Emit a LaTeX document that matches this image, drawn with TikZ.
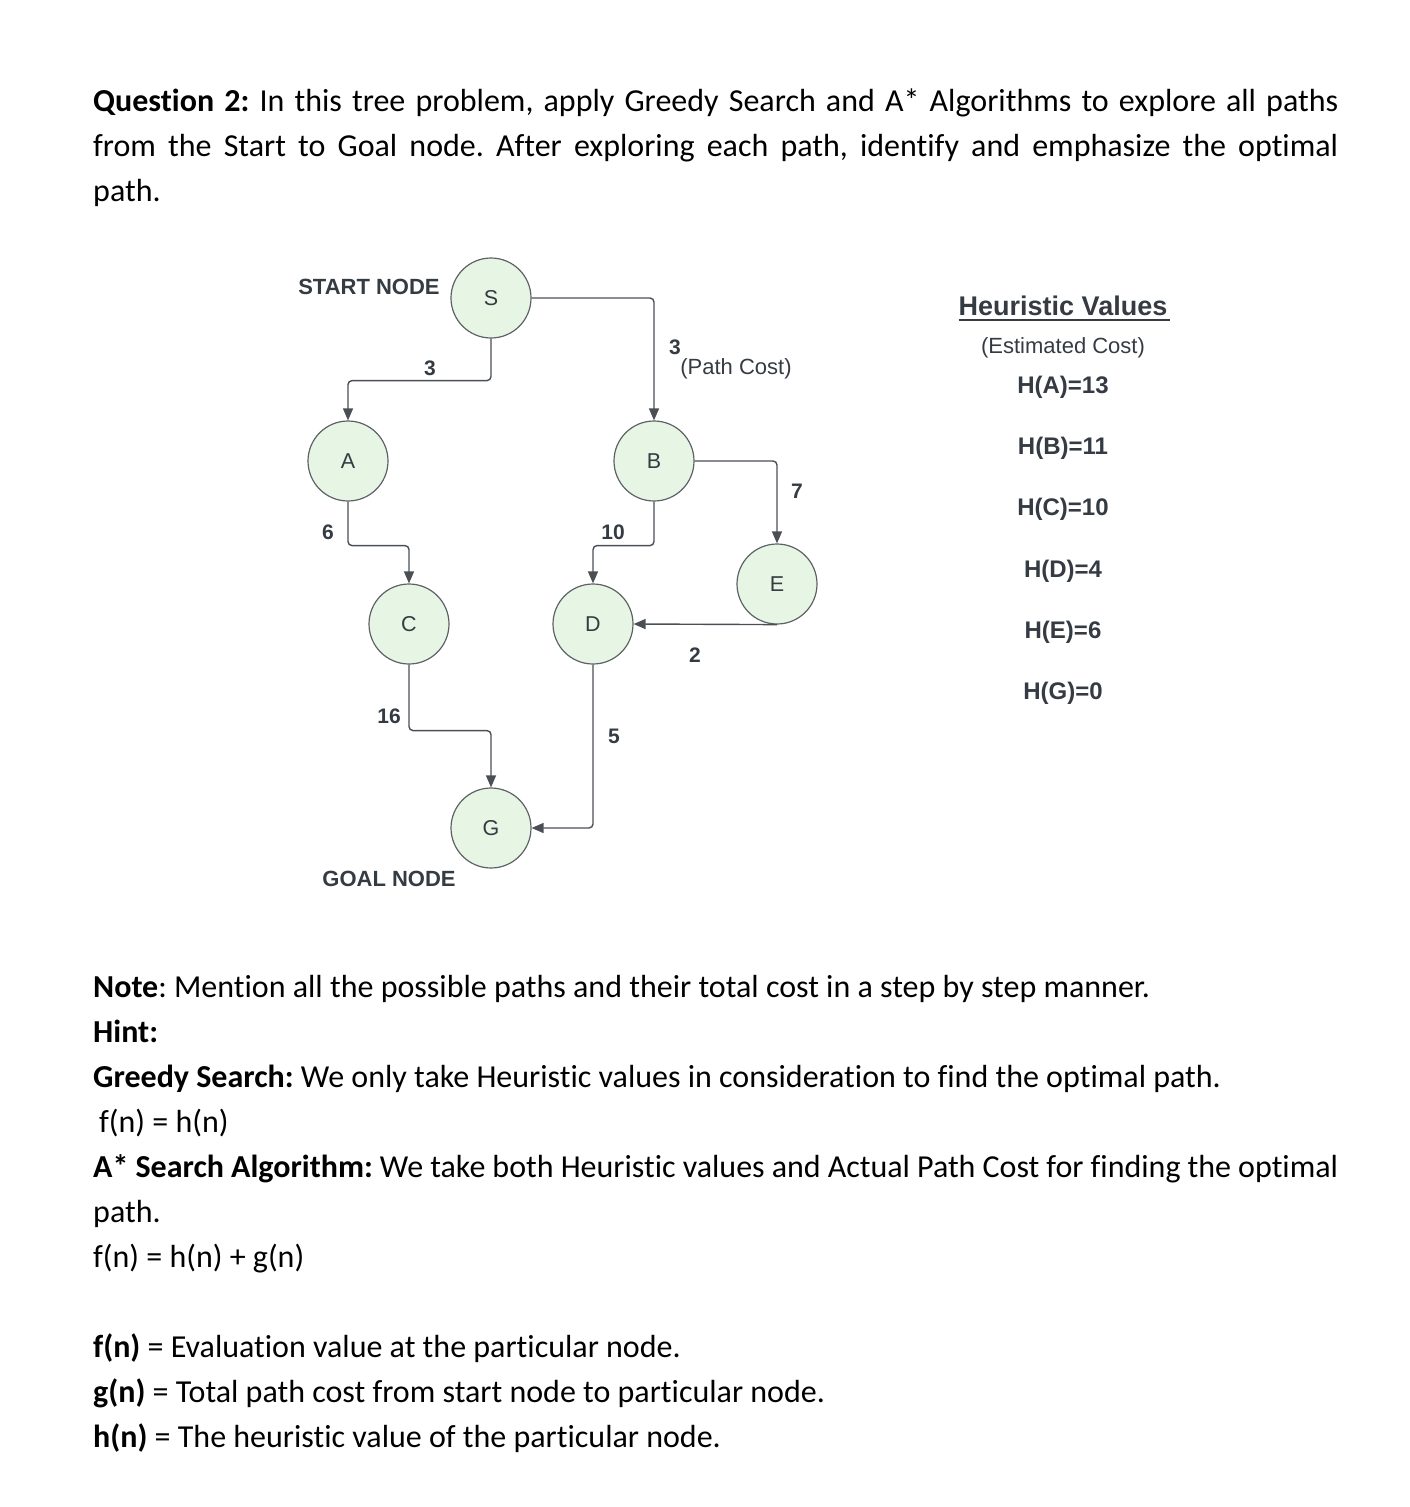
\documentclass[tikz,border=0pt]{standalone}
\usepackage{fontspec}
\setmainfont{Carlito}[Ligatures={NoCommon}]
\newfontfamily\arial{Liberation Sans}
\usetikzlibrary{arrows.meta}
\definecolor{nodefill}{HTML}{E6F5E4}
\definecolor{nodedraw}{HTML}{5E6166}
\definecolor{edgecol}{HTML}{4A4F56}
\definecolor{txt}{HTML}{353B43}
\frenchspacing
\begin{document}
\begin{tikzpicture}[x=1pt,y=-1pt,
  state/.style={circle, draw=nodedraw, fill=nodefill, line width=1.2pt, minimum size=80pt, inner sep=0pt, font=\arial\fontsize{21.5}{21.5}\selectfont, text=txt},
  edge/.style={draw=edgecol, line width=1.4pt, rounded corners=4pt, -{Triangle[length=12pt,width=10pt]}},
  elabel/.style={font=\arial\bfseries\fontsize{21}{21}\selectfont, text=txt, inner sep=0pt},
  plabel/.style={font=\arial\fontsize{22}{22}\selectfont, text=txt, inner sep=0pt},
  tlabel/.style={font=\arial\bfseries\fontsize{22}{22}\selectfont, text=txt, inner sep=0pt},
  hval/.style={font=\arial\bfseries\fontsize{24}{24}\selectfont, text=txt, inner sep=0pt},
  body/.style={anchor=base west, inner sep=0pt, font=\fontsize{32}{45}\selectfont},
]
\useasboundingbox (0,0) rectangle (1409,1507);

% question text
\node[body] (q1) at (93,111) {\makebox[1245pt][s]{\textbf{Question 2:} In this tree problem, apply Greedy Search and A* Algorithms to explore all paths}};
\node[body] (q2) at (93,156) {\makebox[1245pt][s]{from the Start to Goal node. After exploring each path, identify and emphasize the optimal}};
\node[body] (q3) at (93,201) {path.};

% graph nodes
\node[state] (S) at (491,298) {S};
\node[state] (A) at (348,461) {A};
\node[state] (B) at (654,461) {B};
\node[state] (C) at (409,624) {C};
\node[state] (D) at (593,624) {D};
\node[state] (E) at (777,584) {E};
\node[state] (G) at (491,828) {G};

% edges
\draw[edge] (S.south) -- ++(0,42) -| (A.north);
\draw[edge] (S.east) -| (B.north);
\draw[edge] (A.south) -- ++(0,44) -| (C.north);
\draw[edge] (B.south) -- ++(0,44) -| (D.north);
\draw[edge] (B.east) -| (E.north);
\draw[edge] (E.south) -- (D.east);
\draw[edge] (C.south) -- ++(0,66) -| (G.north);
\draw[edge] (D.south) |- (G.east);

% edge labels
\node[elabel] (l1) at (430,368) {3};
\node[elabel] (l2) at (675,347) {3};
\node[plabel] (l2b) at (736,369) {(Path Cost)};
\node[elabel] (l3) at (328,532) {6};
\node[elabel] (l4) at (613,532) {10};
\node[elabel] (l5) at (797,491) {7};
\node[elabel] (l6) at (695,655) {2};
\node[elabel] (l7) at (389,716) {16};
\node[elabel] (l8) at (614,736) {5};

\node[tlabel] (start) at (369,287) {START NODE};
\node[tlabel] (goal) at (389,879) {GOAL NODE};

% heuristic values
\node[font=\arial\bfseries\fontsize{27}{27}\selectfont, text=txt, inner sep=0pt] (hv) at (1063,306) {Heuristic Values};
\draw[txt, line width=1.8pt] ([yshift=-4pt]hv.base west) -- ([yshift=-4pt,xshift=2pt]hv.base east);
\node[plabel] (est) at (1063,348) {(Estimated Cost)};
\node[hval] (ha) at (1063,387) {H(A)=13};
\node[hval] (hb) at (1063,448) {H(B)=11};
\node[hval] (hc) at (1063,509) {H(C)=10};
\node[hval] (hd) at (1063,571) {H(D)=4};
\node[hval] (he) at (1063,632) {H(E)=6};
\node[hval] (hg) at (1063,693) {H(G)=0};

% note text
\node[body] (n1) at (93,997) {\textbf{Note}: Mention all the possible paths and their total cost in a step by step manner.};
\node[body] (n2) at (93,1042) {\textbf{Hint:}};
\node[body] (n3) at (93,1087) {\textbf{Greedy Search:} We only take Heuristic values in consideration to find the optimal path.};
\node[body] (n4) at (99,1132) {f(n) = h(n)};
\node[body] (n5) at (93,1177) {\makebox[1245pt][s]{\textbf{A* Search Algorithm:} We take both Heuristic values and Actual Path Cost for finding the optimal}};
\node[body] (n6) at (93,1222) {path.};
\node[body] (n7) at (93,1267) {f(n) = h(n) + g(n)};
\node[body] (n8) at (93,1357) {\textbf{f(n)} = Evaluation value at the particular node.};
\node[body] (n9) at (93,1402) {\textbf{g(n)} = Total path cost from start node to particular node.};
\node[body] (n10) at (93,1447) {\textbf{h(n)} = The heuristic value of the particular node.};
\end{tikzpicture}
\end{document}
